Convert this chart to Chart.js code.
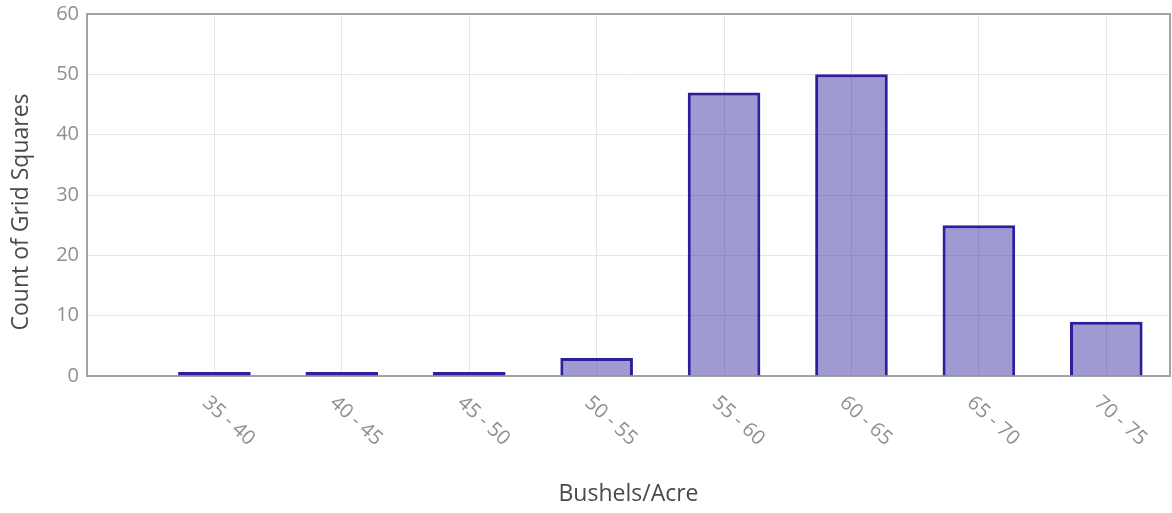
<!DOCTYPE html>
<html lang="en">
  <head>
    <meta charset="UTF-8" />
    <title>Bushels per acre</title>
    <style>
      html, body { margin: 0; padding: 0; background: #fff; }
      #wrap { width: 1172px; height: 513px; }
    </style>
  </head>
  <body>
    <div id="wrap"><canvas id="myChart"></canvas></div>

    <script src="https://cdn.jsdelivr.net/npm/chart.js@4/dist/chart.umd.min.js"></script>
    <script>
      // bins along the x axis (positions 1..8), value counts per bin
      const binLabels = ["35 - 40", "40 - 45", "45 - 50", "50 - 55", "55 - 60", "60 - 65", "65 - 70", "70 - 75"];
      const binPositions = [1, 2, 3, 4, 5, 6, 7, 8];
      const gridCounts = [0, 0, 0, 3, 47, 50, 25, 9];
      const yTicks = [0, 10, 20, 30, 40, 50, 60];

      const xTitle = "Bushels/Acre";
      const yTitle = "Count of Grid Squares";

      const ctx = document.getElementById("myChart").getContext("2d");

      // frame round the plot, slanted x labels and the y title
      const extras = {
        id: "extras",
        beforeDatasetsDraw(chart) {
          const a = chart.chartArea;
          const c = chart.ctx;
          c.save();
          c.strokeStyle = "#a3a3a3";
          c.lineWidth = 2;
          c.strokeRect(a.left, a.top, a.right - a.left, a.bottom - a.top);
          c.restore();
        },
        afterDraw(chart) {
          const c = chart.ctx;
          const xs = chart.scales.x;
          c.save();
          c.font = "20px 'Open Sans'";
          c.fillStyle = "#8f8f8f";
          c.textAlign = "left";
          c.textBaseline = "middle";
          binPositions.forEach((p, i) => {
            const px = xs.getPixelForValue(p);
            c.save();
            c.translate(px - 9, chart.chartArea.bottom + 24);
            c.rotate((42 * Math.PI) / 180);
            c.fillText(binLabels[i], 0, 0);
            c.restore();
          });

          c.font = "23px 'Open Sans'";
          c.fillStyle = "#4a4a4a";
          c.textAlign = "center";
          c.translate(21, 212);
          c.rotate(-Math.PI / 2);
          c.fillText(yTitle, 0, 0);
          c.restore();
        }
      };

      const chart = new Chart(ctx, {
        type: "bar",
        data: {
          datasets: [
            {
              label: "Count",
              data: binPositions.map((p, i) => ({ x: p, y: gridCounts[i] })),
              backgroundColor: "rgba(43, 31, 155, 0.45)",
              borderColor: "rgb(43, 31, 155)",
              borderWidth: 3,
              borderSkipped: c => (c.parsed && c.parsed.y === 0 ? false : "start"),
              minBarLength: 4,
              barPercentage: 0.57,
              categoryPercentage: 1
            }
          ]
        },
        plugins: [extras],
        options: {
          responsive: true,
          maintainAspectRatio: false,
          animation: false,
          layout: { padding: { top: 14, right: 2, left: 0, bottom: 0 } },
          plugins: {
            legend: { display: false },
            tooltip: { enabled: false }
          },
          scales: {
            x: {
              type: "linear",
              min: 0,
              max: 8.5,
              offset: false,
              afterBuildTicks: s => {
                s.ticks = binPositions.map(v => ({ value: v }));
              },
              afterFit: s => {
                s.height = 137;
              },
              ticks: { display: false },
              grid: { color: "#e6e6e6", drawTicks: false, offset: false },
              border: { display: false },
              title: {
                display: true,
                text: xTitle,
                color: "#4a4a4a",
                font: { family: "'Open Sans'", size: 23 },
                padding: { top: 0, bottom: 5 }
              }
            },
            y: {
              min: 0,
              max: 60,
              afterBuildTicks: s => {
                s.ticks = yTicks.map(v => ({ value: v }));
              },
              afterFit: s => {
                s.width = 87;
                s.paddingTop = 0;
                s.paddingBottom = 0;
              },
              ticks: {
                color: "#8f8f8f",
                padding: 8,
                font: { family: "'Open Sans'", size: 20 }
              },
              grid: { color: "#e6e6e6", drawTicks: false },
              border: { display: false }
            }
          }
        }
      });
    </script>
  </body>
</html>
